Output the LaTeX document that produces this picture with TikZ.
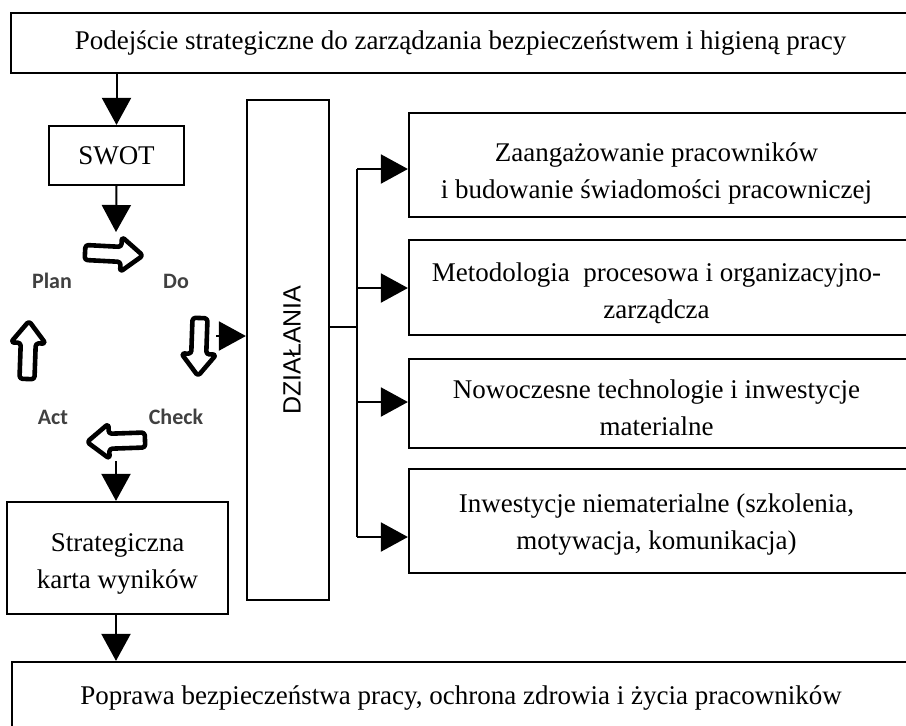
\documentclass[tikz,border=0pt]{standalone}
\usepackage{fontspec}
\setmainfont{Liberation Serif}
\newfontfamily\cyclefont{Carlito}
\newfontfamily\actfont{Liberation Sans}
\usetikzlibrary{arrows.meta}

\begin{document}
\begin{tikzpicture}[x=0.5pt, y=-0.5pt,
    box/.style={draw, line width=1.1pt, fill=white, align=center, inner sep=0pt,
        font=\fontsize{13.5}{18.5}\selectfont},
    boxtext/.style={align=center, inner sep=0pt, font=\fontsize{13.5}{18.5}\selectfont},
    conn/.style={line width=1pt, -{Triangle[length=13.5pt, width=14.5pt]}},
    bus/.style={line width=1pt},
    cyclearrow/.style={draw, line width=2.3pt, fill=white, line join=round, rounded corners=1.5pt},
    cyclelabel/.style={font=\cyclefont\bfseries\fontsize{11}{12}\selectfont, text=black!75}]
    \useasboundingbox (0,0) rectangle (906,725);
    \clip (0,0) rectangle (906,725);

    % Main boxes
    \node[box, minimum width=449.5pt, minimum height=30pt] (strategy) at (460.5,43)
        {Podejście strategiczne do zarządzania bezpieczeństwem i higieną pracy};
    \node[box, minimum width=67.5pt, minimum height=29.5pt] (swot) at (116.5,155.5) {SWOT};
    \node[box, minimum width=110.5pt, minimum height=56pt] (karta) at (117.5,558) {};
    \node[boxtext] (karta-text) at ([yshift=-3pt]karta.center) {Strategiczna\\karta wyników};
    \node[box, minimum width=449pt, minimum height=39pt] (result) at (461,701) {};
    \node[boxtext] (result-text) at ([yshift=1.5pt]result.center)
        {Poprawa bezpieczeństwa pracy, ochrona zdrowia i życia pracowników};

    % Actions column
    \node[box, minimum width=41pt, minimum height=250pt] (dzialania) at (288,350) {};
    \node[rotate=90, font=\actfont\fontsize{12.5}{13}\selectfont] (dzlabel) at (292,350) {DZIAŁANIA};

    % Action boxes
    \node[box, minimum width=250.5pt, minimum height=52pt] (act1) at (659.5,165) {};
    \node[box, minimum width=250.5pt, minimum height=47.5pt] (act2) at (659.5,287.5) {};
    \node[box, minimum width=250.5pt, minimum height=44.5pt] (act3) at (659.5,403.5) {};
    \node[box, minimum width=250.5pt, minimum height=52pt] (act4) at (659.5,521) {};
    \node[boxtext] (act1-text) at ([xshift=-1.5pt, yshift=-4pt]act1.center)
        {Zaangażowanie pracowników\\i budowanie świadomości pracowniczej};
    \node[boxtext] (act2-text) at ([xshift=-1.5pt, yshift=-3pt]act2.center)
        {Metodologia\ \ procesowa i organizacyjno-\\zarządcza};
    \node[boxtext] (act3-text) at ([xshift=-1.5pt, yshift=-2pt]act3.center)
        {Nowoczesne technologie i inwestycje\\materialne};
    \node[boxtext] (act4-text) at ([xshift=-1.5pt, yshift=-2pt]act4.center)
        {Inwestycje niematerialne (szkolenia,\\motywacja, komunikacja)};

    % PDCA cycle
    \foreach \x/\y/\a in {114/254/-3, 199/347/-92, 116/441/182, 28/350/88} {
        \begin{scope}[shift={(\x,\y)}, rotate=\a]
            \draw[cyclearrow] (-29,-7.5) -- (7,-7.5) -- (7,-17.5) -- (29,0) -- (7,17.5) -- (7,7.5) -- (-29,7.5) -- cycle;
        \end{scope}
    }
    \node[cyclelabel] (plan) at (52,281) {Plan};
    \node[cyclelabel] (do) at (176,281) {Do};
    \node[cyclelabel] (check) at (176,417) {Check};
    \node[cyclelabel] (act) at (53,417) {Act};
    \coordinate (cyctop) at (116,232);
    \coordinate (cycbot) at (116,461);
    \coordinate (cycout) at (216,336);

    % Flow
    \draw[conn] (swot.north |- strategy.south) -- (swot.north);
    \draw[conn] (swot.south) -- (cyctop);
    \draw[conn] (cycbot) -- (karta.north -| cycbot);
    \draw[conn] (karta.south -| cycbot) -- (result.north -| cycbot);
    \draw[conn] (cycout) -- (dzialania.west |- cycout);

    % Branches
    \coordinate (split) at (357,327);
    \draw[bus] (dzialania.east |- split) -- (split);
    \foreach \b/\y in {act1/169, act2/288, act3/402, act4/537} {
        \coordinate (\b-in) at (357,\y);
        \draw[conn] (\b-in) -- (\b.west |- \b-in);
    }
    \draw[bus] (act1-in) -- (act4-in);
\end{tikzpicture}
\end{document}
